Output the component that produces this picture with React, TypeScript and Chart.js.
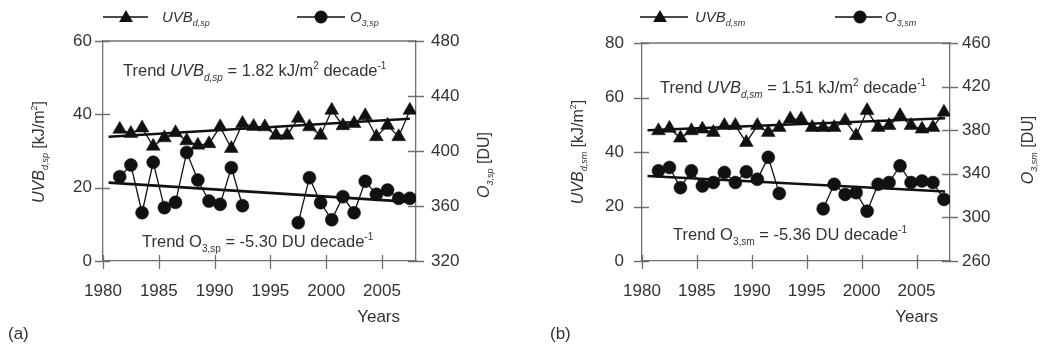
import React, { useEffect, useRef } from "react";
import { Chart, registerables } from "chart.js";

Chart.register(...registerables);

// ---------- data ----------
const years = [
  1981, 1982, 1983, 1984, 1985, 1986, 1987, 1988, 1989, 1990, 1991, 1992, 1993, 1994,
  1995, 1996, 1997, 1998, 1999, 2000, 2001, 2002, 2003, 2004, 2005, 2006, 2007,
];
const MID_YEAR = 0.5;

// (a) spring
const uvbSp = [
  35.9, 34.8, 36.3, 31.3, 33.6, 35.0, 32.8, 31.6, 32.0, 36.6, 30.7, 37.5, 36.7, 36.6,
  34.3, 34.3, 38.9, 36.6, 34.3, 41.1, 36.9, 37.5, 39.6, 33.9, 37.0, 33.9, 41.1,
];
const o3Sp: (number | null)[] = [
  381.3, 389.8, 355.1, 391.8, 358.8, 362.7, 399.0, 378.9, 363.6, 361.2, 387.9, 360.2, null, null,
  null, null, 347.9, 380.6, 362.4, 350.0, 366.8, 355.1, 378.0, 368.5, 371.6, 365.6, 365.6,
];
const trendYearsA = [1980.5, 2007.5];
const uvbSpTrend = [33.9, 38.8];
const o3SpTrend = [377.0, 363.0];

// (b) summer
const uvbSm = [
  47.8, 48.7, 45.1, 47.8, 48.4, 47.2, 49.7, 49.7, 43.5, 49.7, 47.2, 49.0, 52.1, 52.1,
  49.0, 49.0, 49.0, 51.5, 46.0, 55.2, 49.0, 49.7, 53.4, 49.7, 48.4, 49.0, 54.6,
];
const o3Sm: (number | null)[] = [
  342.7, 345.8, 327.3, 342.7, 328.8, 332.0, 341.2, 332.0, 341.8, 335.0, 355.1, 322.0, null, null,
  null, 307.9, 330.4, 321.1, 322.7, 305.7, 330.4, 332.0, 347.3, 332.0, 333.4, 332.0, 316.5,
];
const trendYearsB = [1980.5, 2007.6];
const uvbSmTrend = [48.0, 52.4];
const o3SmTrend = [338.0, 323.8];

// ticks
const xTicks = [1980, 1985, 1990, 1995, 2000, 2005];
const uvbTicksA = [0, 20, 40, 60];
const o3TicksA = [320, 360, 400, 440, 480];
const uvbTicksB = [0, 20, 40, 60, 80];
const o3TicksB = [260, 300, 340, 380, 420, 460];

// ---------- styles ----------
const FONT = '"Liberation Sans", Arial, Helvetica, sans-serif';
const TEXT = "#333333";
const AXIS = "#707070";
const INK = "#111111";

type Run = { t: string; i?: boolean; sub?: boolean; sup?: boolean };

function runFont(r: Run, size: number) {
  const s = r.sub || r.sup ? Math.round(size * 0.58) : size;
  return `${r.i ? "italic " : ""}${s}px ${FONT}`;
}

function runsWidth(ctx: CanvasRenderingContext2D, runs: Run[], size: number) {
  let w = 0;
  for (const r of runs) {
    ctx.font = runFont(r, size);
    w += ctx.measureText(r.t).width;
  }
  return w;
}

function drawRuns(
  ctx: CanvasRenderingContext2D,
  runs: Run[],
  x: number,
  y: number,
  size: number,
  align: "left" | "center" | "right" = "left"
) {
  const total = runsWidth(ctx, runs, size);
  let cx = align === "center" ? x - total / 2 : align === "right" ? x - total : x;
  ctx.textAlign = "left";
  ctx.textBaseline = "alphabetic";
  for (const r of runs) {
    ctx.font = runFont(r, size);
    const dy = r.sub ? size * 0.28 : r.sup ? -size * 0.42 : 0;
    ctx.fillText(r.t, cx, y + dy);
    cx += ctx.measureText(r.t).width;
  }
}

type PanelCfg = {
  uvb: number[];
  o3: (number | null)[];
  trendX: number[];
  uvbTrend: number[];
  o3Trend: number[];
  uvbTicks: number[];
  o3Ticks: number[];
  sub: string;
  uvbVal: string;
  o3Val: string;
  label: string;
  area: { left: number; right: number; top: number; bottom: number };
  yPad: number;
  y2Pad: number;
  legend: { l1: [number, number]; m1: number; t1: number; l2: [number, number]; m2: number; t2: number };
  trend1: [number, number];
  trend2: [number, number];
  yearsRight: number;
  labelX: number;
  leftTitle: [number, number];
  rightTitle: [number, number];
};

const W = 521;
const H = 352;

function drawTriangle(ctx: CanvasRenderingContext2D, x: number, y: number, r: number) {
  ctx.beginPath();
  ctx.moveTo(x, y - r);
  ctx.lineTo(x + r * 0.866, y + r * 0.5);
  ctx.lineTo(x - r * 0.866, y + r * 0.5);
  ctx.closePath();
  ctx.fill();
}

function makeDecor(cfg: PanelCfg) {
  return {
    id: "decor",
    afterDraw(chart: any) {
      const ctx: CanvasRenderingContext2D = chart.ctx;
      const a = chart.chartArea;
      ctx.save();
      // top frame line
      ctx.strokeStyle = AXIS;
      ctx.lineWidth = 1.3;
      ctx.beginPath();
      ctx.moveTo(a.left, a.top);
      ctx.lineTo(a.right, a.top);
      ctx.stroke();
      // crossing tick marks
      ctx.beginPath();
      const xs = chart.scales.x;
      xs.ticks.forEach((t: any) => {
        const px = Math.round(xs.getPixelForValue(t.value)) + 0.5;
        ctx.moveTo(px, a.bottom - 6);
        ctx.lineTo(px, a.bottom + 8);
      });
      const ys = chart.scales.y;
      ys.ticks.forEach((t: any) => {
        const py = Math.round(ys.getPixelForValue(t.value)) + 0.5;
        ctx.moveTo(a.left - 8, py);
        ctx.lineTo(a.left + 7, py);
      });
      const y2 = chart.scales.y2;
      y2.ticks.forEach((t: any) => {
        const py = Math.round(y2.getPixelForValue(t.value)) + 0.5;
        ctx.moveTo(a.right - 8, py);
        ctx.lineTo(a.right + 8, py);
      });
      ctx.stroke();

      // legend
      const L = cfg.legend;
      const ly = 17;
      ctx.strokeStyle = INK;
      ctx.fillStyle = INK;
      ctx.lineWidth = 1.4;
      ctx.beginPath();
      ctx.moveTo(L.l1[0], ly);
      ctx.lineTo(L.l1[1], ly);
      ctx.moveTo(L.l2[0], ly);
      ctx.lineTo(L.l2[1], ly);
      ctx.stroke();
      drawTriangle(ctx, L.m1, ly + 1, 8);
      ctx.beginPath();
      ctx.arc(L.m2, ly, 6.5, 0, Math.PI * 2);
      ctx.fill();
      ctx.fillStyle = TEXT;
      drawRuns(ctx, [{ t: "UVB", i: true }, { t: "d," + cfg.sub, i: true, sub: true }], L.t1, 22, 15);
      drawRuns(ctx, [{ t: "O", i: true }, { t: "3," + cfg.sub, i: true, sub: true }], L.t2, 22, 15);

      // trend annotations
      drawRuns(
        ctx,
        [
          { t: "Trend " },
          { t: "UVB", i: true },
          { t: "d," + cfg.sub, i: true, sub: true },
          { t: " = " + cfg.uvbVal + " kJ/m" },
          { t: "2", sup: true },
          { t: " decade" },
          { t: "-1", sup: true },
        ],
        cfg.trend1[0],
        cfg.trend1[1],
        16.5
      );
      drawRuns(
        ctx,
        [
          { t: "Trend O" },
          { t: "3," + cfg.sub, sub: true },
          { t: " = " + cfg.o3Val + " DU decade" },
          { t: "-1", sup: true },
        ],
        cfg.trend2[0],
        cfg.trend2[1],
        16.5
      );

      // Years + panel label
      drawRuns(ctx, [{ t: "Years" }], cfg.yearsRight, 322, 17, "right");
      drawRuns(ctx, [{ t: cfg.label }], cfg.labelX, 339, 17);

      // rotated axis titles
      ctx.save();
      ctx.translate(cfg.leftTitle[0] + 6, cfg.leftTitle[1]);
      ctx.rotate(-Math.PI / 2);
      drawRuns(
        ctx,
        [
          { t: "UVB", i: true },
          { t: "d," + cfg.sub, i: true, sub: true },
          { t: " [kJ/m" },
          { t: "2", sup: true },
          { t: "]" },
        ],
        0,
        0,
        16,
        "center"
      );
      ctx.restore();
      ctx.save();
      ctx.translate(cfg.rightTitle[0] + 6, cfg.rightTitle[1]);
      ctx.rotate(-Math.PI / 2);
      drawRuns(
        ctx,
        [{ t: "O", i: true }, { t: "3," + cfg.sub, i: true, sub: true }, { t: " [DU]" }],
        0,
        0,
        16,
        "center"
      );
      ctx.restore();
      ctx.restore();
    },
  };
}

function Panel({ cfg }: { cfg: PanelCfg }) {
  const ref = useRef<HTMLCanvasElement | null>(null);
  useEffect(() => {
    const canvas = ref.current;
    if (!canvas) return;
    const a = cfg.area;
    const tickFont = { family: FONT, size: 17 };
    const chart = new Chart(canvas, {
      type: "line",
      data: {
        datasets: [
          {
            label: "UVB",
            data: years.map((yr, i) => ({ x: yr + MID_YEAR, y: cfg.uvb[i] })),
            yAxisID: "y",
            borderColor: INK,
            backgroundColor: INK,
            borderWidth: 1.3,
            pointStyle: "triangle",
            pointRadius: 8,
            pointBorderWidth: 0.5,
            tension: 0,
          },
          {
            label: "O3",
            data: years.map((yr, i) => ({ x: yr + MID_YEAR, y: cfg.o3[i] })),
            yAxisID: "y2",
            borderColor: INK,
            backgroundColor: INK,
            borderWidth: 1.3,
            pointStyle: "circle",
            pointRadius: 6.5,
            pointBorderWidth: 0.5,
            spanGaps: false,
            tension: 0,
          },
          {
            label: "UVB trend",
            data: cfg.trendX.map((x, i) => ({ x, y: cfg.uvbTrend[i] })),
            yAxisID: "y",
            borderColor: INK,
            borderWidth: 2.6,
            pointRadius: 0,
          },
          {
            label: "O3 trend",
            data: cfg.trendX.map((x, i) => ({ x, y: cfg.o3Trend[i] })),
            yAxisID: "y2",
            borderColor: INK,
            borderWidth: 2.6,
            pointRadius: 0,
          },
        ],
      },
      options: {
        responsive: false,
        animation: false,
        devicePixelRatio: 1,
        layout: { padding: { top: a.top, left: 0, right: 0, bottom: 0 } },
        plugins: { legend: { display: false }, tooltip: { enabled: false }, title: { display: false } },
        scales: {
          x: {
            type: "linear",
            min: 1980,
            max: 2008.05,
            afterBuildTicks: (s: any) => {
              s.ticks = xTicks.map((v) => ({ value: v }));
            },
            afterFit: (s: any) => {
              s.height = H - a.bottom;
            },
            grid: { display: false, drawTicks: false },
            border: { display: true, color: AXIS, width: 1.3 },
            ticks: { color: TEXT, font: tickFont, padding: 20, maxRotation: 0, callback: (v: any) => String(v) },
          },
          y: {
            type: "linear",
            position: "left",
            min: cfg.uvbTicks[0],
            max: cfg.uvbTicks[cfg.uvbTicks.length - 1],
            afterBuildTicks: (s: any) => {
              s.ticks = cfg.uvbTicks.map((v) => ({ value: v }));
            },
            afterFit: (s: any) => {
              s.width = a.left;
            },
            grid: { display: false, drawTicks: false },
            border: { display: true, color: AXIS, width: 1.3 },
            ticks: { color: TEXT, font: tickFont, padding: cfg.yPad, callback: (v: any) => String(v) },
          },
          y2: {
            type: "linear",
            position: "right",
            min: cfg.o3Ticks[0],
            max: cfg.o3Ticks[cfg.o3Ticks.length - 1],
            afterBuildTicks: (s: any) => {
              s.ticks = cfg.o3Ticks.map((v) => ({ value: v }));
            },
            afterFit: (s: any) => {
              s.width = W - a.right;
            },
            grid: { display: false, drawTicks: false },
            border: { display: true, color: AXIS, width: 1.3 },
            ticks: { color: TEXT, font: tickFont, padding: cfg.y2Pad, callback: (v: any) => String(v) },
          },
        },
      } as any,
      plugins: [makeDecor(cfg)],
    });
    return () => chart.destroy();
  }, [cfg]);
  return <canvas ref={ref} width={W} height={H} style={{ width: W, height: H, display: "block" }} />;
}

const cfgA: PanelCfg = {
  uvb: uvbSp,
  o3: o3Sp,
  trendX: trendYearsA,
  uvbTrend: uvbSpTrend,
  o3Trend: o3SpTrend,
  uvbTicks: uvbTicksA,
  o3Ticks: o3TicksA,
  sub: "sp",
  uvbVal: "1.82",
  o3Val: "-5.30",
  label: "(a)",
  area: { left: 103, right: 416, top: 41, bottom: 261 },
  yPad: 11,
  y2Pad: 15,
  legend: { l1: [103, 148], m1: 126, t1: 162, l2: [297, 345], m2: 321, t2: 350 },
  trend1: [123, 76],
  trend2: [142, 247],
  yearsRight: 400,
  labelX: 8,
  leftTitle: [38, 152],
  rightTitle: [483, 165],
};

const cfgB: PanelCfg = {
  uvb: uvbSm,
  o3: o3Sm,
  trendX: trendYearsB,
  uvbTrend: uvbSmTrend,
  o3Trend: o3SmTrend,
  uvbTicks: uvbTicksB,
  o3Ticks: o3TicksB,
  sub: "sm",
  uvbVal: "1.51",
  o3Val: "-5.36",
  label: "(b)",
  area: { left: 121, right: 429, top: 43, bottom: 261 },
  yPad: 18,
  y2Pad: 12,
  legend: { l1: [119, 167], m1: 139, t1: 174, l2: [314, 361], m2: 339, t2: 364 },
  trend1: [139, 93],
  trend2: [152, 240],
  yearsRight: 417,
  labelX: 29,
  leftTitle: [56, 152],
  rightTitle: [506, 150],
};

export default function App() {
  return (
    <div
      style={{
        position: "absolute",
        left: 0,
        top: 0,
        width: 1042,
        height: 352,
        background: "#ffffff",
        display: "flex",
        flexDirection: "row",
      }}
    >
      <Panel cfg={cfgA} />
      <Panel cfg={cfgB} />
    </div>
  );
}
